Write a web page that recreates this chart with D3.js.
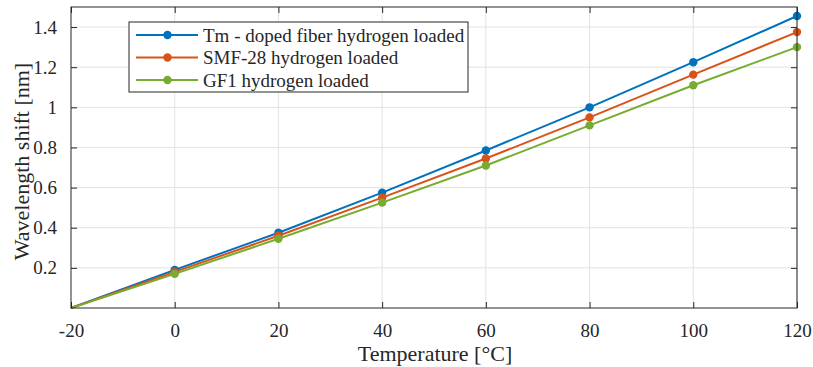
<!DOCTYPE html>
<html>
<head>
<meta charset="utf-8">
<script src="https://cdn.jsdelivr.net/npm/d3@7"></script>
<style>
  body { margin: 0; background: #fff; }
</style>
</head>
<body>
<div id="chart"></div>
<script>
// temperatures in °C
const temps = [-20, 0, 20, 40, 60, 80, 100, 120];
// wavelength shift in nm
const tmDoped = [0, 0.19, 0.375, 0.575, 0.785, 1.0, 1.225, 1.455];
const smf28 = [0, 0.18, 0.36, 0.55, 0.745, 0.95, 1.163, 1.375];
const gf1 = [0, 0.17, 0.345, 0.525, 0.71, 0.91, 1.11, 1.3];
const seriesNames = ["Tm - doped fiber hydrogen loaded", "SMF-28 hydrogen loaded", "GF1 hydrogen loaded"];
const xTicks = [-20, 0, 20, 40, 60, 80, 100, 120];
const yTicks = [0.2, 0.4, 0.6, 0.8, 1, 1.2, 1.4];

const colors = ["#0072BD", "#D95319", "#77AC30"];
const series = [tmDoped, smf28, gf1].map((vals, i) => ({
    name: seriesNames[i],
    color: colors[i],
    points: temps.map((t, j) => ({t: t, v: vals[j]}))
}));

// set the dimensions and margins of the graph
const W = 813, H = 367;
const margin = {top: 7, right: 16, bottom: 59, left: 71};
const width = W - margin.left - margin.right;
const height = H - margin.top - margin.bottom;

const x = d3.scaleLinear().domain([-20, 120]).range([0, width]);
const y = d3.scaleLinear().domain([0, 1.5]).range([height, 0]);

const serif = "Liberation Serif";
const axisColor = "#262626";

const svg = d3.select("#chart").append("svg")
    .attr("width", W)
    .attr("height", H)
    .attr("font-family", serif)
    .append("g")
    .attr("transform", "translate(" + margin.left + "," + margin.top + ")");

// grid lines
svg.append("g").selectAll("line")
    .data(xTicks.slice(1))
    .enter().append("line")
    .attr("x1", d => x(d)).attr("x2", d => x(d))
    .attr("y1", 0).attr("y2", height)
    .attr("stroke", "#e3e3e3").attr("stroke-width", 1);
svg.append("g").selectAll("line")
    .data(yTicks)
    .enter().append("line")
    .attr("y1", d => y(d)).attr("y2", d => y(d))
    .attr("x1", 0).attr("x2", width)
    .attr("stroke", "#e3e3e3").attr("stroke-width", 1);

// lines
const line = d3.line().x(d => x(d.t)).y(d => y(d.v));
series.forEach(s => {
    svg.append("path")
        .datum(s.points)
        .attr("fill", "none")
        .attr("stroke", s.color)
        .attr("stroke-width", 2)
        .attr("d", line);
});
series.forEach(s => {
    svg.append("g").selectAll("circle")
        .data(s.points.filter(d => d.t > -20))
        .enter().append("circle")
        .attr("cx", d => x(d.t))
        .attr("cy", d => y(d.v))
        .attr("r", 4.2)
        .attr("fill", s.color);
});

// axes, ticks inward on all four sides
const tickLen = 6;
function styleAxis(g) {
    g.attr("font-family", serif).attr("font-size", 19);
    g.select(".domain").remove();
    g.selectAll(".tick line").attr("stroke", axisColor);
    g.selectAll(".tick text")
        .attr("font-family", serif)
        .attr("font-size", 19)
        .attr("fill", axisColor);
}
svg.append("g")
    .attr("transform", "translate(0," + height + ")")
    .call(d3.axisBottom(x).tickValues(xTicks).tickSizeInner(-tickLen).tickSizeOuter(0).tickPadding(16)
        .tickFormat(d => String(d)))
    .call(styleAxis);
svg.append("g")
    .call(d3.axisTop(x).tickValues(xTicks).tickSizeInner(-tickLen).tickSizeOuter(0).tickFormat(""))
    .call(styleAxis);
svg.append("g")
    .call(d3.axisLeft(y).tickValues(yTicks).tickSizeInner(-tickLen).tickSizeOuter(0).tickPadding(14)
        .tickFormat(d => String(d)))
    .call(styleAxis);
svg.append("g")
    .attr("transform", "translate(" + width + ",0)")
    .call(d3.axisRight(y).tickValues(yTicks).tickSizeInner(-tickLen).tickSizeOuter(0).tickFormat(""))
    .call(styleAxis);

svg.append("rect")
    .attr("width", width).attr("height", height)
    .attr("fill", "none")
    .attr("stroke", axisColor)
    .attr("stroke-width", 1);

// axis labels
svg.append("text")
    .attr("x", width / 2 + 1)
    .attr("y", height + 53)
    .attr("text-anchor", "middle")
    .attr("font-family", serif)
    .attr("font-size", 22)
    .attr("fill", axisColor)
    .text("Temperature [°C]");

svg.append("text")
    .attr("transform", "rotate(-90)")
    .attr("x", -(height / 2) - 4)
    .attr("y", -margin.left + 29)
    .attr("text-anchor", "middle")
    .attr("font-family", serif)
    .attr("font-size", 22)
    .attr("fill", axisColor)
    .text("Wavelength shift [nm]");

// legend
const legend = svg.append("g").attr("transform", "translate(" + (129 - margin.left) + "," + (22 - margin.top) + ")");
legend.append("rect")
    .attr("width", 339).attr("height", 70)
    .attr("fill", "#fff")
    .attr("stroke", axisColor)
    .attr("stroke-width", 1);
series.forEach((s, i) => {
    const row = legend.append("g").attr("transform", "translate(0," + (13 + i * 22.5) + ")");
    row.append("line")
        .attr("x1", 7).attr("x2", 69)
        .attr("stroke", s.color).attr("stroke-width", 2);
    row.append("circle")
        .attr("cx", 38.5).attr("r", 4.2).attr("fill", s.color);
    row.append("text")
        .attr("x", 74).attr("dy", "0.35em")
        .attr("font-family", serif)
        .attr("font-size", 19)
        .attr("fill", axisColor)
        .text(s.name);
});
</script>
</body>
</html>
